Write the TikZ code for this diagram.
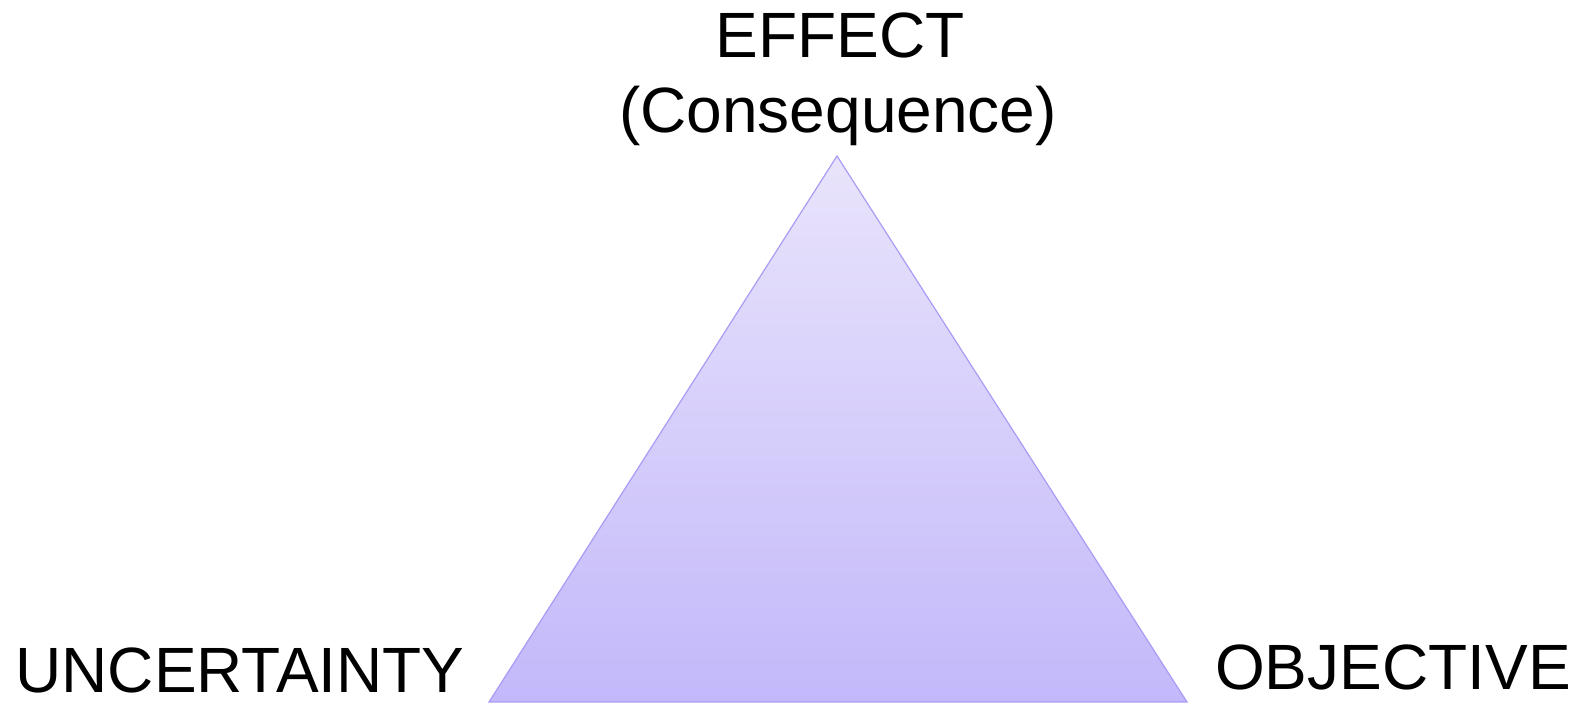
\documentclass[tikz,border=0pt]{standalone}
\usepackage{fontspec}
\setmainfont{Liberation Sans}
\usetikzlibrary{positioning}
\definecolor{triTop}{RGB}{233,228,251}
\definecolor{triBot}{RGB}{195,184,250}
\definecolor{triEdge}{RGB}{168,156,245}

\begin{document}
\begin{tikzpicture}[
  x=1pt, y=1pt,
  lbl/.style={font=\fontsize{64}{80}\selectfont, inner sep=0pt, anchor=base},
  tri/.style={draw=triEdge, line width=1.2pt, line join=miter,
              top color=triTop, bottom color=triBot},
]
\useasboundingbox (0,0) rectangle (1575,703);

% ---- triangle corners -------------------------------------------
\coordinate (apex)  at (837,547);
\coordinate (left)  at (489,1);
\coordinate (right) at (1187,1);

\path[tri] (apex) -- (left) -- (right) -- cycle;

% ---- labels -----------------------------------------------------
\node[lbl] (effect) at (840,645) {EFFECT};
\node[lbl] (conseq) at (838,570) {(Consequence)};
\node[lbl] (uncert) at (240,10)  {UNCERTAINTY};
\node[lbl] (object) at (1393,13) {OBJECTIVE};

\end{tikzpicture}
\end{document}
